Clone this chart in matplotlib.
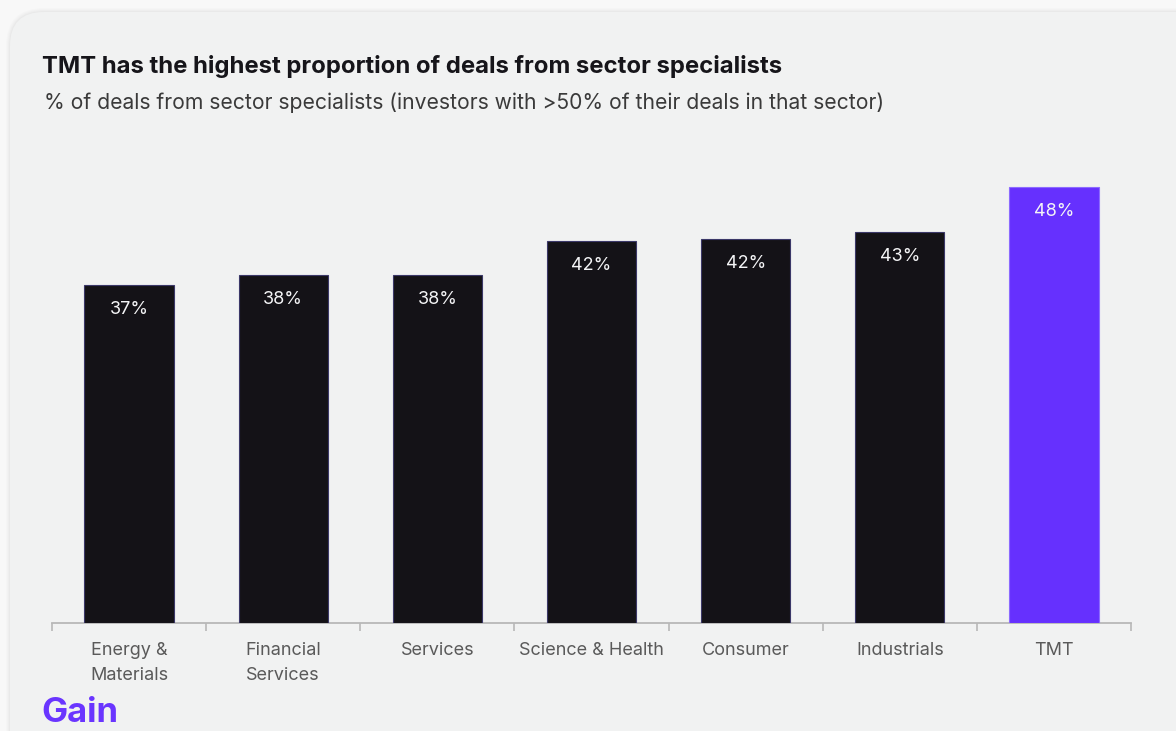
import matplotlib.pyplot as plt
from matplotlib.patches import FancyBboxPatch
from matplotlib.ticker import FixedLocator

# ── data ─────────────────────────────────────────────────────────────────────
SECTORS = ["Energy &\nMaterials", "Financial\nServices", "Services",
           "Science & Health", "Consumer", "Industrials", "TMT"]
SPECIALIST_SHARE = [37.2, 38.3, 38.3, 42.06, 42.3, 43.05, 48.0]
HIGHLIGHT = "TMT"

# ── style ────────────────────────────────────────────────────────────────────
BG_OUTER = "#f8f8f8"
BG_PANEL = "#f1f2f2"
BAR_DARK = "#141217"
EDGE_DARK = "#3b3868"
BAR_HI = "#6630fe"
EDGE_HI = "#8c6bff"
TEXT_DARK = "#16151a"
TEXT_MID = "#3a3a3a"
TEXT_TICK = "#5a5a5a"
AXIS_GREY = "#b8b8b8"

plt.rcParams["font.family"] = ["Inter", "DejaVu Sans"]

fig = plt.figure(figsize=(11.76, 7.31), dpi=100)
fig.patch.set_facecolor(BG_OUTER)

# rounded card with a soft shadow behind the chart
W, H = 1176, 731
for i, a in enumerate([0.012, 0.012, 0.015, 0.02]):
    off = 4 - i
    fig.patches.append(FancyBboxPatch(
        ((10 - off) / W, -0.2), (W + 40) / W, (H - 12 + off) / H + 0.2,
        boxstyle=f"round,pad=0,rounding_size={(34 + off) / W}",
        transform=fig.transFigure, facecolor="black", edgecolor="none",
        alpha=a, zorder=-3, mutation_aspect=W / H))
fig.patches.append(FancyBboxPatch(
    (10 / W, -0.2), (W + 40) / W, (H - 12) / H + 0.2,
    boxstyle=f"round,pad=0,rounding_size={34 / W}",
    transform=fig.transFigure, facecolor=BG_PANEL, edgecolor="none",
    zorder=-2, mutation_aspect=W / H))

# ── axes ─────────────────────────────────────────────────────────────────────
ax = fig.add_axes([52 / W, (H - 623) / H, 1079 / W, 473 / H])
ax.set_facecolor("none")
ax.set_zorder(2)

x = range(len(SECTORS))
colors = [BAR_HI if s == HIGHLIGHT else BAR_DARK for s in SECTORS]
edges = [EDGE_HI if s == HIGHLIGHT else EDGE_DARK for s in SECTORS]
bars = ax.bar(x, SPECIALIST_SHARE, width=0.58, color=colors,
              edgecolor=edges, linewidth=0.8, zorder=3)

for b, v in zip(bars, SPECIALIST_SHARE):
    ax.annotate(f"{v:.0f}%", (b.get_x() + b.get_width() / 2, v),
                xytext=(0, -17.5), textcoords="offset points",
                ha="center", va="center", fontsize=13, color="#f4f4f6",
                zorder=4)

ax.set_xlim(-0.5, len(SECTORS) - 0.5)
ax.set_ylim(0, 52.07)
ax.set_yticks([])
for side in ("left", "right", "top"):
    ax.spines[side].set_visible(False)
ax.spines["bottom"].set_color(AXIS_GREY)
ax.spines["bottom"].set_linewidth(1.3)

ax.set_xticks(list(x))
ax.set_xticklabels(SECTORS, fontsize=13, color=TEXT_TICK, linespacing=1.6)
ax.tick_params(axis="x", which="major", length=0, pad=13.5)
ax.xaxis.set_minor_locator(FixedLocator([i - 0.5 for i in range(len(SECTORS) + 1)]))
ax.tick_params(axis="x", which="minor", length=6, width=1.2, color=AXIS_GREY)

# ── titles & logo ────────────────────────────────────────────────────────────
fig.text(42 / W, 1 - 66 / H, "TMT has the highest proportion of deals from sector specialists",
         fontsize=17.2, fontweight="bold", color=TEXT_DARK, va="center", ha="left")
fig.text(44 / W, 1 - 103 / H,
         "% of deals from sector specialists (investors with >50% of their deals in that sector)",
         fontsize=15.2, color=TEXT_MID, va="center", ha="left")
fig.text(41 / W, 1 - 713 / H, "Gain", fontsize=25, fontweight="bold",
         color="#6a35ff", va="center", ha="left")

fig.savefig("out.png", dpi=100, facecolor=fig.get_facecolor())
